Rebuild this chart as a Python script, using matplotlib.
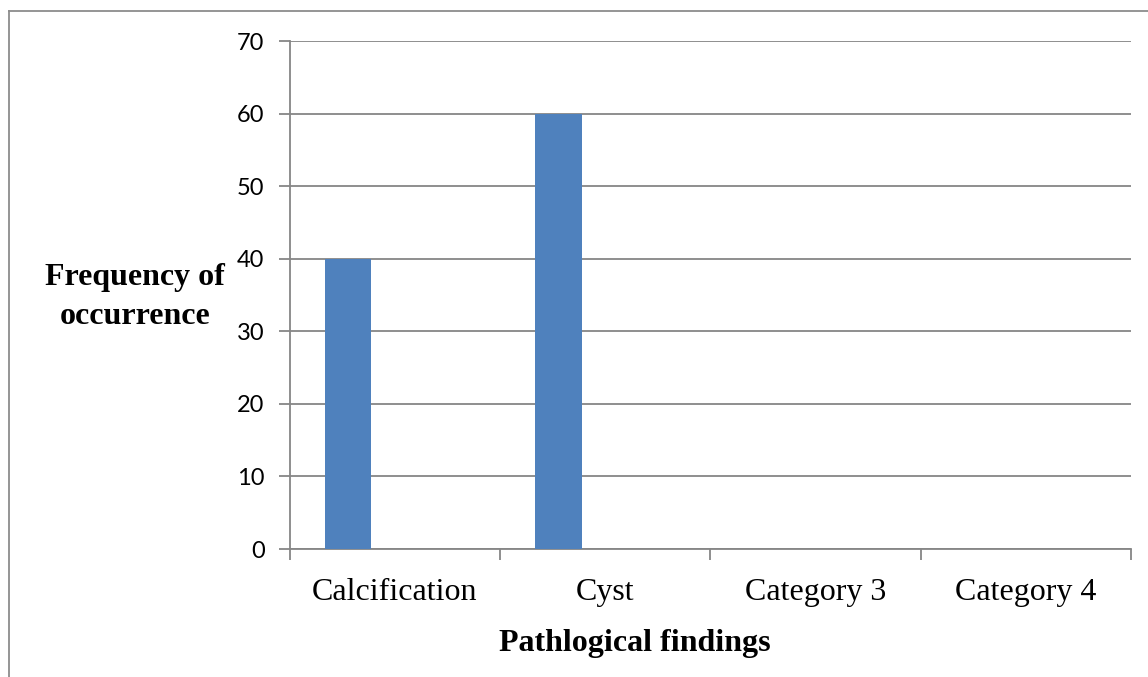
import matplotlib
matplotlib.use("Agg")
import matplotlib.pyplot as plt
from matplotlib.lines import Line2D
import numpy as np

categories = ["Calcification", "Cyst", "Category 3", "Category 4"]
series_1 = [40, 60, 0, 0]
series_2 = [0, 0, 0, 0]
series_3 = [0, 0, 0, 0]
y_ticks = [0, 10, 20, 30, 40, 50, 60, 70]

W, H = 1148, 677
fig = plt.figure(figsize=(W / 100, H / 100), dpi=100)

# plot area in pixel coordinates
left_px, right_px, bottom_px, top_px = 289.5, 1131, 549, 41
ax = fig.add_axes([left_px / W, (H - bottom_px) / H,
                   (right_px - left_px) / W, (bottom_px - top_px) / H])

grey = "#868686"
bar_w = 1 / 4.5
x = np.arange(len(categories)) + 0.5
for i, vals in enumerate([series_1, series_2, series_3]):
    ax.bar(x + (i - 1) * bar_w, vals, width=bar_w, color="#4F81BD",
           edgecolor="none", zorder=3)

ax.set_xlim(0, len(categories))
ax.set_ylim(0, 70)
ax.set_yticks(y_ticks)
ax.set_yticklabels([str(v) for v in y_ticks], family="Lato", fontsize=17)
ax.yaxis.grid(True, color=grey, linewidth=1.3, zorder=0)
ax.set_xticks(np.arange(len(categories) + 1))
ax.set_xticklabels([])
ax.set_xticks(x, minor=True)
ax.set_xticklabels(categories, minor=True, family="Liberation Serif", fontsize=23)
ax.tick_params(axis="x", which="minor", length=0, pad=21)
ax.tick_params(axis="x", which="major", length=8, color=grey, width=1.3, direction="out")
ax.tick_params(axis="y", length=8, color=grey, width=1.3, direction="out", pad=10)

for s in ["top", "right"]:
    ax.spines[s].set_visible(False)
for s in ["left", "bottom"]:
    ax.spines[s].set_color(grey)
    ax.spines[s].set_linewidth(1.3)

fig.text(135 / W, 1 - 297 / H, "Frequency of\noccurrence", ha="center", va="center",
         family="Liberation Serif", fontweight="bold", fontsize=23, linespacing=1.45)
fig.text(635 / W, 1 - 643 / H, "Pathlogical findings", ha="center", va="center",
         family="Liberation Serif", fontweight="bold", fontsize=23)

# outer chart frame
fig.add_artist(Line2D([8.5 / W, 8.5 / W], [0, 1 - 11 / H], transform=fig.transFigure,
                      color="#8c8c8c", linewidth=1.3))
fig.add_artist(Line2D([8.5 / W, 1], [1 - 11 / H, 1 - 11 / H], transform=fig.transFigure,
                      color="#8c8c8c", linewidth=1.3))

fig.savefig("out.png", dpi=100, facecolor="white")
